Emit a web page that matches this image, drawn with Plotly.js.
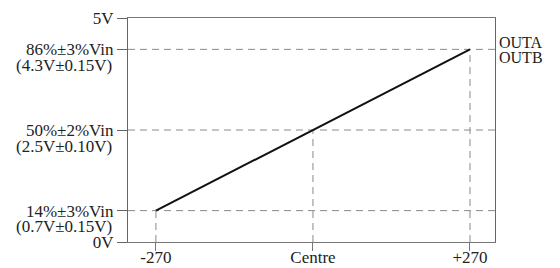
<!DOCTYPE html>
<html><head><meta charset="utf-8">
<script src="https://cdn.plot.ly/plotly-3.0.1.min.js"></script>
<style>html,body{margin:0;padding:0;background:#fff}#chart{width:560px;height:268px}</style>
</head><body><div id="chart"></div>
<script>
var angles = [-270, 0, 270];
var angleLabels = ['-270', 'Centre', '+270'];
var volts = [0.7, 2.5, 4.3];
var yTickVals = [5, 4.3, 2.5, 0.7, 0];
var yTickLabels = ['5V', '86%±3%Vin', '50%±2%Vin', '14%±3%Vin', '0V'];
var ySubVals = [4.3, 2.5, 0.7];
var ySubLabels = ['(4.3V±0.15V)', '(2.5V±0.10V)', '(0.7V±0.15V)'];
var outputs = ['OUTA', 'OUTB'];

var serif = 'Liberation Serif, Times New Roman, serif';
var dashStyle = {color: '#8a8a8a', width: 1, dash: '7px,5px'};

var shapes = [];
volts.forEach(function (v, i) {
  shapes.push({type: 'line', xref: 'paper', yref: 'y', x0: 0, x1: 1, y0: v, y1: v, line: dashStyle, layer: 'below'});
  shapes.push({type: 'line', xref: 'x', yref: 'y', x0: angles[i], x1: angles[i], y0: 0, y1: v, line: dashStyle, layer: 'below'});
});

var annotations = [];
ySubVals.forEach(function (v, i) {
  annotations.push({xref: 'paper', yref: 'y', x: 0, y: v, text: ySubLabels[i], showarrow: false,
    xanchor: 'right', yanchor: 'middle', xshift: -14, yshift: -16,
    font: {family: serif, size: 17, color: '#222'}});
});
outputs.forEach(function (t, i) {
  annotations.push({xref: 'paper', yref: 'y', x: 1, y: volts[2], text: t, showarrow: false,
    xanchor: 'left', yanchor: 'middle', xshift: 2, yshift: 7 - i * 15,
    font: {family: serif, size: 16, color: '#222'}});
});

var trace = {x: angles, y: volts, type: 'scatter', mode: 'lines',
  line: {color: '#111', width: 2}, hoverinfo: 'skip', showlegend: false};

var layout = {
  width: 560, height: 268,
  margin: {l: 128, r: 65, t: 18, b: 26},
  paper_bgcolor: '#fff', plot_bgcolor: '#fff',
  font: {family: serif, size: 17, color: '#222'},
  xaxis: {range: [-318, 313], tickvals: angles, ticktext: angleLabels,
    showgrid: false, zeroline: false, showline: true, mirror: true, linecolor: '#777', linewidth: 1,
    ticks: 'outside', ticklen: 8, tickcolor: '#777', ticklabelstandoff: -8,
    tickfont: {family: serif, size: 17, color: '#222'}},
  yaxis: {range: [0, 5], tickvals: yTickVals, ticktext: yTickLabels,
    showgrid: false, zeroline: false, showline: true, mirror: true, linecolor: '#666', linewidth: 1,
    ticks: 'outside', ticklen: 10, tickcolor: '#666',
    tickfont: {family: serif, size: 17, color: '#222'}},
  shapes: shapes,
  annotations: annotations
};

Plotly.newPlot('chart', [trace], layout, {staticPlot: true, displayModeBar: false});
</script></body></html>
